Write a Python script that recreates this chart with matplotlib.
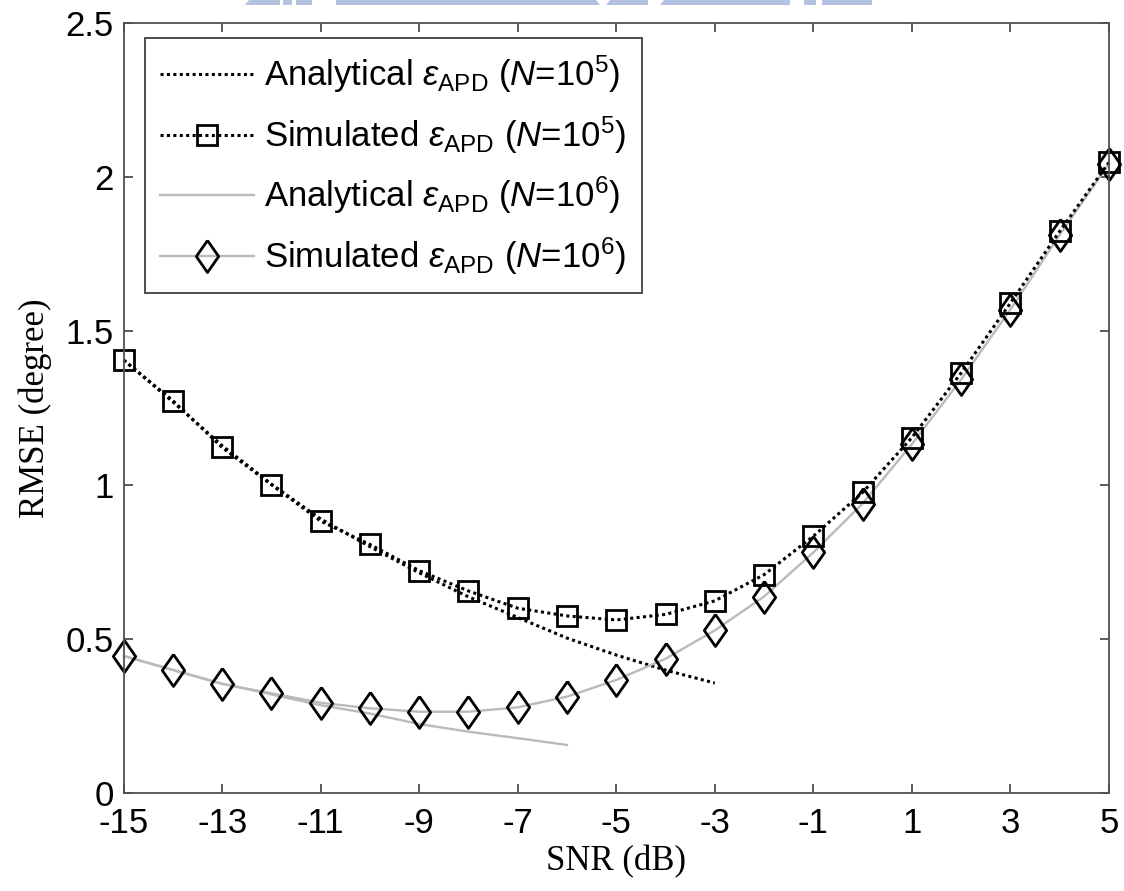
import matplotlib
matplotlib.use("Agg")
import matplotlib.pyplot as plt
from matplotlib.patches import Polygon

# ---- data ----
snr = [-15, -14, -13, -12, -11, -10, -9, -8, -7, -6, -5, -4, -3, -2, -1, 0, 1, 2, 3, 4, 5]
sim_1e5 = [1.406, 1.274, 1.122, 1.001, 0.883, 0.807, 0.722, 0.656, 0.600, 0.575, 0.562,
           0.580, 0.624, 0.709, 0.834, 0.976, 1.154, 1.364, 1.591, 1.824, 2.048]
sim_1e6 = [0.445, 0.399, 0.354, 0.324, 0.293, 0.275, 0.264, 0.264, 0.278, 0.313, 0.367,
           0.436, 0.528, 0.638, 0.781, 0.940, 1.133, 1.343, 1.570, 1.812, 2.044]
snr_ana_1e5 = [-15, -14, -13, -12, -11, -10, -9, -8, -7, -6, -5, -4, -3]
ana_1e5 = [1.406, 1.270, 1.128, 1.003, 0.890, 0.800, 0.715, 0.637, 0.570, 0.503, 0.448, 0.399, 0.357]
snr_ana_1e6 = [-15, -14, -13, -12, -11, -10, -9, -8, -7, -6]
ana_1e6 = [0.445, 0.400, 0.355, 0.320, 0.285, 0.258, 0.224, 0.199, 0.178, 0.156]

xticks = [-15, -13, -11, -9, -7, -5, -3, -1, 1, 3, 5]
yticks = [0, 0.5, 1, 1.5, 2, 2.5]
ytick_labels = ['0', '0.5', '1', '1.5', '2', '2.5']
labels = [r'Analytical $\varepsilon_{\mathrm{APD}}$ ($N$=10$^5$)',
          r'Simulated $\varepsilon_{\mathrm{APD}}$ ($N$=10$^5$)',
          r'Analytical $\varepsilon_{\mathrm{APD}}$ ($N$=10$^6$)',
          r'Simulated $\varepsilon_{\mathrm{APD}}$ ($N$=10$^6$)']

plt.rcParams['font.family'] = ['Liberation Sans', 'DejaVu Sans']
plt.rcParams['mathtext.fontset'] = 'custom'
plt.rcParams['mathtext.rm'] = 'Liberation Sans'
plt.rcParams['mathtext.it'] = 'Liberation Sans:italic'
plt.rcParams['mathtext.bf'] = 'Liberation Sans:bold'

W, H = 1124, 891
fig = plt.figure(figsize=(W / 100, H / 100), dpi=100)

# faint cropped watermark at the top edge (decoration in the scanned figure)
wm_color = '#b3c3e1'
wm_pieces = [(245, 280, 4), (283, 292, 0), (296, 312, 0), (336, 600, -4),
             (606, 648, 4), (660, 790, 4), (804, 816, 0), (822, 872, 0)]
for x0, x1, sl in wm_pieces:
    pts = [(x0 + max(sl, 0), 0), (x1 + min(sl, 0), 0), (x1, 5), (x0, 5)]
    pts = [(px / W, 1 - py / H) for px, py in pts]
    fig.patches.append(Polygon(pts, closed=True, transform=fig.transFigure,
                               facecolor=wm_color, edgecolor='none', zorder=0))

ax = fig.add_axes([0.110, 0.110, 0.8766, 0.864])

diamond = [(0, 1), (0.7, 0), (0, -1), (-0.7, 0), (0, 1)]
gray = '#bababa'
dot_style = dict(linestyle=(0, (1.0, 1.1)), color='black', linewidth=2.2)
gray_style = dict(linestyle='-', color=gray, linewidth=1.7)
sq_style = dict(marker='s', markersize=14, markerfacecolor='none',
                markeredgecolor='black', markeredgewidth=2.0)
dm_style = dict(marker=diamond, markersize=23, markerfacecolor='none',
                markeredgecolor='black', markeredgewidth=2.0)

ax.plot(snr_ana_1e5, ana_1e5, **dot_style)
ax.plot(snr_ana_1e6, ana_1e6, **gray_style)
ax.plot(snr, sim_1e6, clip_on=False, **gray_style, **dm_style)
ax.plot(snr, sim_1e5, clip_on=False, **dot_style, **sq_style)

ax.set_xlim(-15, 5)
ax.set_ylim(0, 2.5)
ax.set_xticks(xticks)
ax.set_xticklabels([str(t) for t in xticks])
ax.set_yticks(yticks)
ax.set_yticklabels(ytick_labels)
ax.tick_params(direction='in', length=6.5, width=1.2, top=True, right=True,
               labelsize=25, colors='#404040', labelcolor='black')
ax.tick_params(axis='x', pad=10)
ax.tick_params(axis='y', pad=7)
for s in ax.spines.values():
    s.set_color('#505050')
    s.set_linewidth(1.3)

ax.set_xlabel('SNR (dB)', family='Liberation Serif', fontsize=25, labelpad=4)
ax.set_ylabel('RMSE (degree)', family='Liberation Serif', fontsize=25, labelpad=10)

h_ana5 = plt.Line2D([], [], **dot_style)
h_sim5 = plt.Line2D([], [], **dot_style, **sq_style)
h_ana6 = plt.Line2D([], [], **gray_style)
h_sim6 = plt.Line2D([], [], **gray_style, **dm_style)
leg = ax.legend([h_ana5, h_sim5, h_ana6, h_sim6], labels, loc='upper left',
                bbox_to_anchor=(0.0213, 0.9805), borderaxespad=0, fontsize=25,
                handlelength=2.7, handletextpad=0.3, labelspacing=0.55, borderpad=0.45,
                fancybox=False, framealpha=1, edgecolor='#404040')
leg.get_frame().set_linewidth(1.3)

fig.savefig('out.png', dpi=100)
